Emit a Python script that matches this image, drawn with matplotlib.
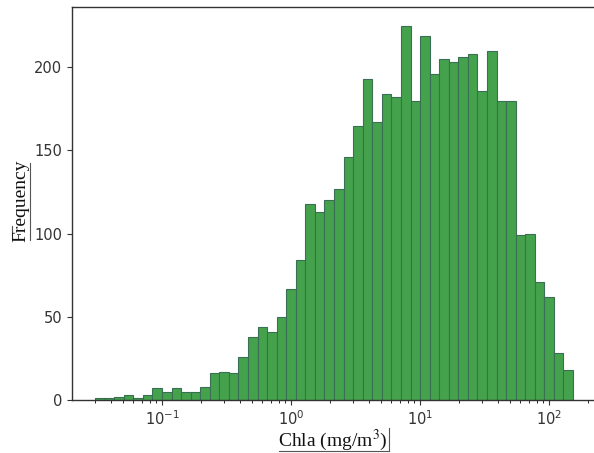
import numpy as np
import matplotlib
matplotlib.use("Agg")
import matplotlib.pyplot as plt
from matplotlib.lines import Line2D

# ---- data ----
log_first_edge = -1.519   # log10 of first bin edge
log_last_edge = 2.186     # log10 of last bin edge
counts = [1, 1, 2, 3, 1, 3, 7, 5, 7, 5,
          5, 8, 16, 17, 16, 26, 38, 44, 41, 50,
          67, 84, 118, 113, 120, 127, 146, 165, 193, 167,
          184, 182, 225, 180, 219, 196, 205, 203, 206, 208,
          186, 210, 180, 180, 99, 100, 71, 62, 28, 18]
y_ticks = [0, 50, 100, 150, 200]
x_label = "Chla (mg/m$^3$)"
y_label = "Frequency"

edges = np.logspace(log_first_edge, log_last_edge, len(counts) + 1)

plt.rcParams['mathtext.fontset'] = 'stix'

W, H = 594, 453
fig = plt.figure(figsize=(W / 100, H / 100), dpi=100)
ax = fig.add_axes([72 / W, 1 - 400 / H, (593 - 72) / W, (400 - 7) / H])

ax.bar(edges[:-1], counts, width=np.diff(edges), align='edge',
       color='#45a24c', edgecolor='#3a6e55', linewidth=0.8)
ax.set_xscale('log')
ax.set_xlim(10 ** -1.698, 10 ** 2.341)
ax.set_ylim(0, max(counts) * 1.05)
ax.set_yticks(y_ticks)
ax.tick_params(labelsize=10.5, colors='#333333')
for s in ['left', 'bottom', 'top']:
    ax.spines[s].set_color('#333333')
    ax.spines[s].set_linewidth(1.0)
ax.spines['right'].set_visible(False)

fig.text(333 / W, 1 - 446 / H, x_label, ha='center', va='baseline',
         family='Liberation Serif', fontsize=14, color='#111111')
fig.text(21 / W, 1 - 201 / H, y_label, ha='center', va='center', rotation=90,
         family='Liberation Serif', fontsize=14, color='#111111')

# thin box-edge artefacts around the pasted labels
def px_line(x0, y0, x1, y1):
    fig.add_artist(Line2D([x0 / W, x1 / W], [1 - y0 / H, 1 - y1 / H],
                          transform=fig.transFigure, color='#555555', lw=0.8))

px_line(279, 451, 389, 451)
px_line(389, 428, 389, 451)
px_line(30, 163, 30, 240)
px_line(12, 238, 12, 226)

fig.savefig("out.png", dpi=100)
